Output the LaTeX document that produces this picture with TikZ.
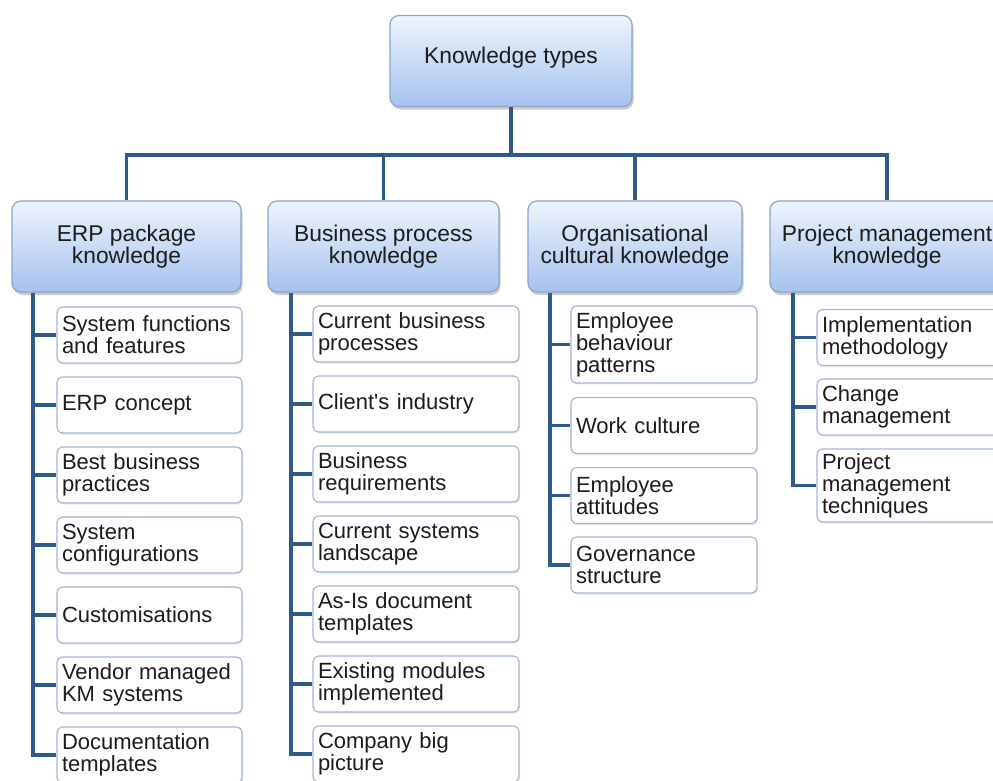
\documentclass[tikz,border=0pt]{standalone}
\usepackage{fontspec}
\setmainfont{Liberation Sans}
\usetikzlibrary{shadows}
\definecolor{linkblue}{HTML}{2F5A8C}
\definecolor{boxtop}{HTML}{EEF4FD}
\definecolor{boxbot}{HTML}{A5C2EE}
\definecolor{boxline}{HTML}{8AA5CC}
\definecolor{leafline}{HTML}{A3B7D5}
\definecolor{inktext}{HTML}{1C1C1C}

\begin{document}
\begin{tikzpicture}[x=1pt,y=-1pt,
        every node/.style={font=\fontsize{22}{22}\selectfont,text=inktext},
        type node/.style={rounded corners=9pt,draw=boxline,line width=1.2pt,top color=boxtop,bottom color=boxbot,
          align=center,minimum height=91pt,inner sep=2pt,font=\fontsize{22.8}{22.5}\selectfont,
          drop shadow={shadow xshift=1.5pt,shadow yshift=-3pt,fill=black!50,opacity=.4}},
        leaf node/.style={rounded corners=6pt,draw=leafline,line width=1.2pt,fill=white,align=left,
          minimum height=56pt,inner xsep=5pt,inner ysep=3pt,
          drop shadow={shadow xshift=1pt,shadow yshift=-1.5pt,fill=black!30,opacity=.3}},
        link/.style={draw=linkblue,line width=3.5pt}]
        \useasboundingbox (0,0) rectangle (993,780);
        \node[type node, minimum width=242pt] (root) at (511,61) {\raisebox{12pt}{Knowledge types}};
        \node[type node, minimum width=229pt] (erp) at (126.5,246.5) {ERP package\\knowledge};
        \node[type node, minimum width=231pt] (bp) at (383.5,246.5) {Business process\\knowledge};
        \node[type node, minimum width=214pt] (oc) at (635,246.5) {Organisational\\cultural knowledge};
        \node[type node, minimum width=234pt] (pm) at (887,246.5) {Project management\\knowledge};

        \coordinate (bus) at (511,155);
        \coordinate (s1) at (33,0);
        \coordinate (s2) at (291,0);
        \coordinate (s3) at (550,0);
        \coordinate (s4) at (793,0);

        \node[leaf node, text width=175pt] (e1) at (149.5,335) {System functions\\and features};
        \node[leaf node, text width=175pt] (e2) at (149.5,405) {ERP concept};
        \node[leaf node, text width=175pt] (e3) at (149.5,475) {Best business\\practices};
        \node[leaf node, text width=175pt] (e4) at (149.5,545) {System\\configurations};
        \node[leaf node, text width=175pt] (e5) at (149.5,615) {Customisations};
        \node[leaf node, text width=175pt] (e6) at (149.5,685) {Vendor managed\\KM systems};
        \node[leaf node, text width=175pt] (e7) at (149.5,755) {Documentation\\templates};

        \node[leaf node, text width=196pt] (b1) at (416,334) {Current business\\processes};
        \node[leaf node, text width=196pt] (b2) at (416,404) {Client\textquotesingle s industry};
        \node[leaf node, text width=196pt] (b3) at (416,474) {Business\\requirements};
        \node[leaf node, text width=196pt] (b4) at (416,544) {Current systems\\landscape};
        \node[leaf node, text width=196pt] (b5) at (416,614) {As-Is document\\templates};
        \node[leaf node, text width=196pt] (b6) at (416,684) {Existing modules\\implemented};
        \node[leaf node, text width=196pt] (b7) at (416,754) {Company big\\picture};

        \node[leaf node, text width=176pt, minimum height=77pt] (o1) at (664,344.5) {Employee\\behaviour\\patterns};
        \node[leaf node, text width=176pt] (o2) at (664,425.5) {Work culture};
        \node[leaf node, text width=176pt] (o3) at (664,495.5) {Employee\\attitudes};
        \node[leaf node, text width=176pt] (o4) at (664,565) {Governance\\structure};

        \node[leaf node, text width=173pt] (p1) at (908.5,337.5) {Implementation\\methodology};
        \node[leaf node, text width=173pt] (p2) at (908.5,407) {Change\\management};
        \node[leaf node, text width=173pt, minimum height=73pt] (p3) at (908.5,485.5) {Project\\management\\techniques};

        \draw[link] (root.south) -- (root.south |- bus);
        \draw[link] (erp.north) -- (erp.north |- bus) -- (pm.north |- bus) -- (pm.north);
        \draw[link] (bp.north) -- (bp.north |- bus);
        \draw[link] (oc.north) -- (oc.north |- bus);

        \draw[link] (s1 |- erp.south) |- (e7.west);
        \foreach \i in {1,...,6} \draw[link] (s1 |- e\i.west) -- (e\i.west);
        \draw[link] (s2 |- bp.south) |- (b7.west);
        \foreach \i in {1,...,6} \draw[link] (s2 |- b\i.west) -- (b\i.west);
        \draw[link] (s3 |- oc.south) |- (o4.west);
        \foreach \i in {1,...,3} \draw[link] (s3 |- o\i.west) -- (o\i.west);
        \draw[link] (s4 |- pm.south) |- (p3.west);
        \foreach \i in {1,2} \draw[link] (s4 |- p\i.west) -- (p\i.west);
\end{tikzpicture}
\end{document}
